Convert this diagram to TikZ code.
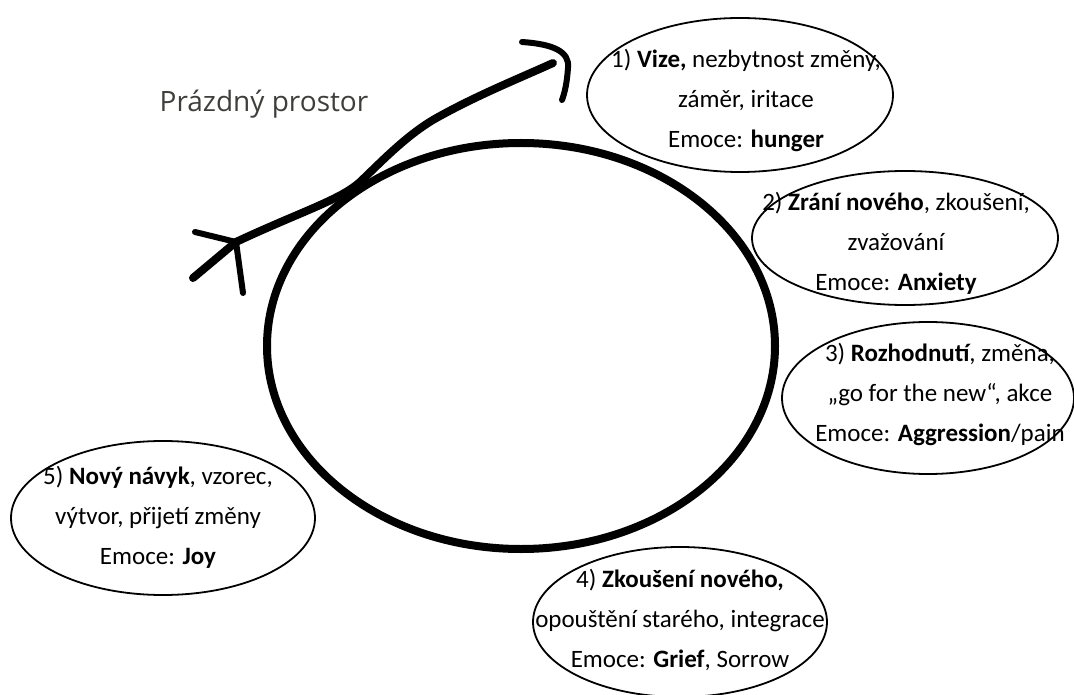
\documentclass[tikz,border=0pt]{standalone}
\usepackage{fontspec}
\setmainfont{Carlito}
\newfontfamily\labelfont{Open Sans}
\definecolor{mInk}{HTML}{000000}
\definecolor{mSlate}{HTML}{3E3F38}
\usetikzlibrary{shapes.geometric}

\begin{document}
\begin{tikzpicture}[x=1pt, y=-1pt,
  bubble/.style={draw=mInk, line width=1.8pt, ellipse, fill=white, inner sep=0pt},
  txt/.style={align=center, inner sep=0pt, text=mInk,
              font=\fontsize{25}{40}\selectfont},
  stroke/.style={draw=mInk, line width=8pt, line cap=round, line join=round},
  fletch/.style={draw=mInk, line width=6pt, line cap=round, line join=round}]
  \useasboundingbox (0,0) rectangle (1074,695);
  % cycle
  \node[stroke, ellipse, inner sep=0pt, minimum width=508pt,
        minimum height=406pt] (cyc) at (521,346) {};
  % path through the empty space
  \coordinate (tail) at (193,278);
  \coordinate (nock) at (236,242);
  \coordinate (tip) at (553,63);
  \draw[stroke] (tail) -- (nock) .. controls (300,212) and (340,200) .. (360,182)
    .. controls (385,158) and (410,132) .. (440,116)
    .. controls (480,94) and (520,78) .. (tip);
  \draw[fletch] (195,232) -- (nock) -- (243,293);
  \draw[fletch] (522,42) .. controls (552,44) and (570,51) .. (568,68)
    .. controls (567,82) and (565,92) .. (562,100);
  \node[font=\labelfont\fontsize{28}{32}\selectfont, text=mSlate] (void)
    at (264,104) {Prázdný prostor};
  % stages
  \node[bubble, minimum width=306pt, minimum height=154pt] (e1) at (740,95) {};
  \node[bubble, minimum width=306pt, minimum height=134pt] (e2) at (905,238) {};
  \node[bubble, minimum width=292pt, minimum height=152pt] (e3) at (928,398) {};
  \node[bubble, minimum width=294pt, minimum height=150pt] (e4) at (680,622) {};
  \node[bubble, minimum width=304pt, minimum height=154pt] (e5) at (163,518) {};
  \node[txt] (t1) at (746,100) {1) \textbf{Vize,} nezbytnost změny,\\
    záměr, iritace\\ Emoce: \textbf{hunger}};
  \node[txt] (t2) at (896,243) {2) \textbf{Zrání nového}, zkoušení,\\
    zvažování\\ Emoce: \textbf{Anxiety}};
  \node[txt] (t3) at (940,394) {3) \textbf{Rozhodnutí}, změna,\\
    „go for the new“, akce\\ Emoce: \textbf{Aggression}/pain};
  \node[txt] (t4) at (680,620) {4) \textbf{Zkoušení nového,}\\
    opouštění starého, integrace\\ Emoce: \textbf{Grief}, Sorrow};
  \node[txt] (t5) at (158,517) {5) \textbf{Nový návyk}, vzorec,\\
    výtvor, přijetí změny\\ Emoce: \textbf{Joy}};
\end{tikzpicture}
\end{document}
